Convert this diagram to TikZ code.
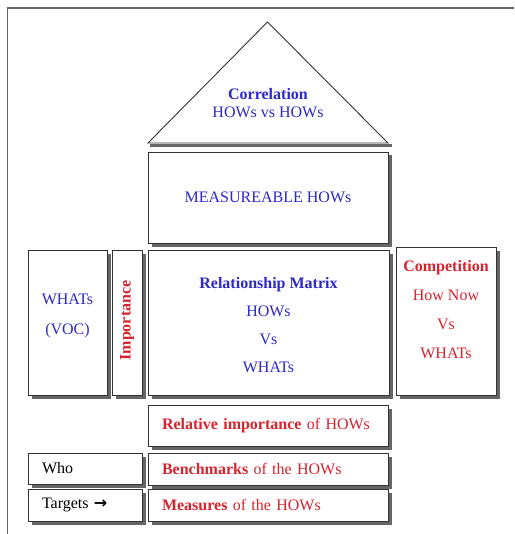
\documentclass[tikz,border=0pt]{standalone}
\usepackage{fontspec}
\setmainfont{Liberation Serif}
\newfontfamily\arrfont{DejaVu Sans}
\usetikzlibrary{shadows}
\definecolor{qblue}{RGB}{45,40,200}
\definecolor{qred}{RGB}{215,35,45}
\tikzset{
  box/.style={draw=black!80, line width=0.9pt, fill=white, inner sep=0pt,
    drop shadow={shadow xshift=3.5pt, shadow yshift=-3.5pt, fill=black!60, opacity=1},
    font=\fontsize{16}{28.5}\selectfont, align=center},
  lbox/.style={box, align=left},
  bt/.style={text=qblue},
  rt/.style={text=qred}
}
\begin{document}
\begin{tikzpicture}[x=1pt,y=-1pt]
\useasboundingbox (0,0) rectangle (514,534);
% outer frame
\draw[black!60, line width=1.3pt] (7.5,534) coordinate (fa) -- (7.5,8) coordinate (fb) -- (514,8) coordinate (fc);
% triangle
\coordinate (tl) at (148,143);
\coordinate (tr) at (388,143);
\coordinate (tt) at (267.5,22);
\draw[black!60, line width=3.5pt] ([xshift=2pt,yshift=-2.5pt]tl) -- ([xshift=3.5pt,yshift=-2.5pt]tr);
\draw[black!80, line width=0.9pt, fill=white] (tl) -- (tt) -- (tr) -- cycle;
\node[font=\fontsize{16}{18.5}\selectfont, align=center, text=qblue] (corr) at (268,103)
  {\textbf{Correlation}\\HOWs vs HOWs};
% boxes
\node[box, bt, minimum width=240pt, minimum height=91pt] (meas) at (268,197.5) {MEASUREABLE HOWs};
\node[box, minimum width=79pt, minimum height=145pt] (whats) at (67.5,322.5) {};
\node[bt, font=\fontsize{16}{30}\selectfont, align=center] (whatst) at ([yshift=7pt]whats.center) {WHATs\\(VOC)};
\node[box, minimum width=30pt, minimum height=145pt] (imp) at (127,322.5) {};
\node[rt, rotate=90, font=\fontsize{16}{18}\selectfont\bfseries] (impt) at ([yshift=2pt]imp.center) {Importance};
\node[box, bt, minimum width=241pt, minimum height=145pt] (rel) at (268.5,322.5) {};
\node[bt, font=\fontsize{16}{28}\selectfont, align=center] (relt) at ([yshift=-3pt]rel.center) {\textbf{Relationship Matrix}\\HOWs\\Vs\\WHATs};
\node[box, minimum width=100pt, minimum height=148pt] (comp) at (446,321) {};
\node[rt, font=\fontsize{16}{29}\selectfont, align=center] (compt) at ([yshift=11pt]comp.center) {\textbf{Competition}\\How Now\\Vs\\WHATs};
\node[lbox, rt, minimum width=240pt, minimum height=41pt, text width=212pt] (relimp) at (268,425.5) {\textbf{Relative importance} of HOWs};
\node[lbox, minimum width=114pt, minimum height=31pt, text width=86pt] (who) at (85,468.5) {Who};
\node[lbox, rt, minimum width=240pt, minimum height=32pt, text width=212pt] (bench) at (268,469) {\textbf{Benchmarks} of the HOWs};
\node[lbox, minimum width=114pt, minimum height=32pt, text width=86pt] (targ) at (85,505) {Targets {\arrfont\bfseries →}};
\node[lbox, rt, minimum width=240pt, minimum height=32pt, text width=212pt] (meass) at (268,505) {\textbf{Measures} of the HOWs};
\end{tikzpicture}
\end{document}
